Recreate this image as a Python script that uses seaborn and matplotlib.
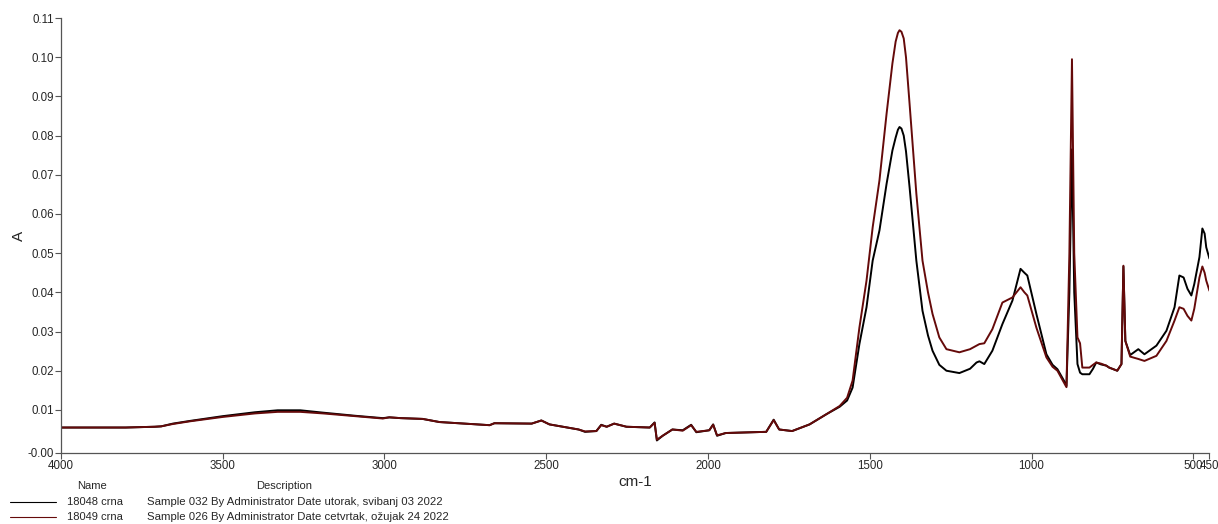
import matplotlib
matplotlib.use("Agg")
import matplotlib.pyplot as plt
from matplotlib.lines import Line2D
import seaborn as sns
import pandas as pd

# wavenumbers (cm-1) and absorbance
wavenumber = [4000, 3900, 3800, 3710, 3690, 3654, 3600, 3500, 3400, 3330,
              3260, 3190, 3090, 3005, 2985, 2950, 2882, 2830, 2675, 2660,
              2545, 2515, 2490, 2400, 2380, 2345, 2330, 2313, 2290, 2252,
              2180, 2165, 2158, 2140, 2110, 2078, 2052, 2036, 1996, 1984,
              1972, 1945, 1820, 1797, 1780, 1740, 1686, 1634, 1593, 1570,
              1553, 1532, 1510, 1491, 1470, 1448, 1430, 1420, 1413, 1408,
              1402, 1395, 1388, 1377, 1356, 1337, 1320, 1306, 1285, 1263,
              1223, 1190, 1170, 1161, 1146, 1121, 1090, 1059, 1034, 1022,
              1013, 985, 954, 935, 920, 900, 892, 883, 875, 868,
              858, 850, 843, 821, 810, 800, 785, 769, 760, 735,
              722, 716, 710, 695, 670, 651, 614, 583, 558, 543,
              530, 518, 506, 497, 481, 472, 465, 460, 450]

a_18048 = [0.0055, 0.0055, 0.0055, 0.0057, 0.0058, 0.0065, 0.0072, 0.0084, 0.0094, 0.0099,
           0.0099, 0.0093, 0.0085, 0.0079, 0.0081, 0.0079, 0.0077, 0.0069, 0.0061, 0.0066,
           0.0065, 0.0073, 0.0063, 0.0050, 0.0044, 0.0046, 0.0062, 0.0057, 0.0065, 0.0057,
           0.0055, 0.0068, 0.0022, 0.0034, 0.0050, 0.0048, 0.0062, 0.0043, 0.0048, 0.0063,
           0.0034, 0.0041, 0.0044, 0.0075, 0.0050, 0.0046, 0.0063, 0.0089, 0.0108, 0.0124,
           0.0157, 0.0268, 0.0362, 0.0481, 0.0558, 0.0677, 0.0762, 0.0795, 0.0815, 0.0822,
           0.0818, 0.0800, 0.0760, 0.0669, 0.0481, 0.0353, 0.0290, 0.0251, 0.0215, 0.0200,
           0.0194, 0.0205, 0.0221, 0.0224, 0.0217, 0.0251, 0.0319, 0.0379, 0.0460, 0.0450,
           0.0443, 0.0345, 0.0242, 0.0215, 0.0204, 0.0175, 0.0161, 0.0400, 0.0765, 0.0400,
           0.0217, 0.0195, 0.0191, 0.0191, 0.0205, 0.0221, 0.0216, 0.0213, 0.0208, 0.0200,
           0.0217, 0.0466, 0.0276, 0.0240, 0.0255, 0.0242, 0.0264, 0.0302, 0.0362, 0.0443,
           0.0438, 0.0409, 0.0392, 0.0421, 0.0490, 0.0563, 0.0550, 0.0515, 0.0486]

a_18049 = [0.0055, 0.0055, 0.0055, 0.0057, 0.0058, 0.0064, 0.0071, 0.0082, 0.0091, 0.0095,
           0.0095, 0.0091, 0.0084, 0.0078, 0.0081, 0.0079, 0.0077, 0.0069, 0.0061, 0.0066,
           0.0065, 0.0073, 0.0063, 0.0050, 0.0045, 0.0046, 0.0061, 0.0057, 0.0065, 0.0057,
           0.0055, 0.0067, 0.0024, 0.0034, 0.0050, 0.0047, 0.0061, 0.0044, 0.0048, 0.0062,
           0.0035, 0.0041, 0.0044, 0.0074, 0.0050, 0.0046, 0.0063, 0.0089, 0.0110, 0.0131,
           0.0175, 0.0310, 0.0430, 0.0566, 0.0686, 0.0856, 0.0984, 0.1040, 0.1062, 0.1069,
           0.1065, 0.1048, 0.1000, 0.0882, 0.0652, 0.0481, 0.0400, 0.0345, 0.0285, 0.0255,
           0.0247, 0.0255, 0.0264, 0.0268, 0.0270, 0.0306, 0.0374, 0.0387, 0.0413, 0.0400,
           0.0392, 0.0310, 0.0234, 0.0210, 0.0200, 0.0170, 0.0158, 0.0500, 0.0995, 0.0500,
           0.0285, 0.0270, 0.0208, 0.0208, 0.0215, 0.0221, 0.0218, 0.0213, 0.0208, 0.0200,
           0.0217, 0.0468, 0.0276, 0.0236, 0.0230, 0.0225, 0.0238, 0.0276, 0.0328, 0.0362,
           0.0358, 0.0340, 0.0328, 0.0358, 0.0438, 0.0466, 0.0450, 0.0430, 0.0404]

names = ["18048 crna", "18049 crna"]
descriptions = ["Sample 032 By Administrator Date utorak, svibanj 03 2022",
                "Sample 026 By Administrator Date cetvrtak, ožujak 24 2022"]
colors = ["#000000", "#650a0a"]

x_ticks = [4000, 3500, 3000, 2500, 2000, 1500, 1000, 500, 450]
y_ticks = [-0.001, 0.01, 0.02, 0.03, 0.04, 0.05, 0.06, 0.07, 0.08, 0.09, 0.10, 0.11]

df = pd.concat([
    pd.DataFrame({"wn": wavenumber, "A": a_18048, "sample": names[0]}),
    pd.DataFrame({"wn": wavenumber, "A": a_18049, "sample": names[1]}),
])

sns.set_style("white")
plt.rcParams["font.family"] = ["Liberation Sans", "DejaVu Sans"]

fig = plt.figure(figsize=(12.18, 5.24), dpi=100)
ax = fig.add_axes([0.050, 0.1355, 0.943, 0.830])

sns.lineplot(data=df, x="wn", y="A", hue="sample", palette=dict(zip(names, colors)),
             estimator=None, sort=False, linewidth=1.4, legend=False, ax=ax)

ax.set_xlim(4000, 450)
ax.set_ylim(-0.001, 0.11)
ax.set_xticks(x_ticks)
ax.set_xticklabels([str(t) for t in x_ticks])
ax.set_yticks(y_ticks)
ax.set_yticklabels([f"{t:.2f}" for t in y_ticks])
ax.tick_params(axis="both", direction="out", length=4, width=0.8, color="#555555",
               labelsize=8.3, pad=1, left=True, bottom=True)
for side in ["top", "right"]:
    ax.spines[side].set_visible(False)
for side in ["left", "bottom"]:
    ax.spines[side].set_color("#555555")
    ax.spines[side].set_linewidth(0.9)

ax.set_xlabel("cm-1", fontsize=11, labelpad=2)
ax.set_ylabel("A", fontsize=11)
ax.yaxis.set_label_coords(-0.030, 0.5)

# legend table under the plot
fig.text(92 / 1218, 1 - 486 / 524, "Name", ha="center", va="center", fontsize=8)
fig.text(284 / 1218, 1 - 486 / 524, "Description", ha="center", va="center", fontsize=8)
for i, (n, d, c) in enumerate(zip(names, descriptions, colors)):
    yy = 1 - (502 + 15 * i) / 524
    fig.add_artist(Line2D([10 / 1218, 56 / 1218], [yy, yy], color=c, linewidth=0.8))
    fig.text(67 / 1218, yy, n, ha="left", va="center", fontsize=8)
    fig.text(147 / 1218, yy, d, ha="left", va="center", fontsize=8.2)

fig.savefig("out.png", dpi=100)
